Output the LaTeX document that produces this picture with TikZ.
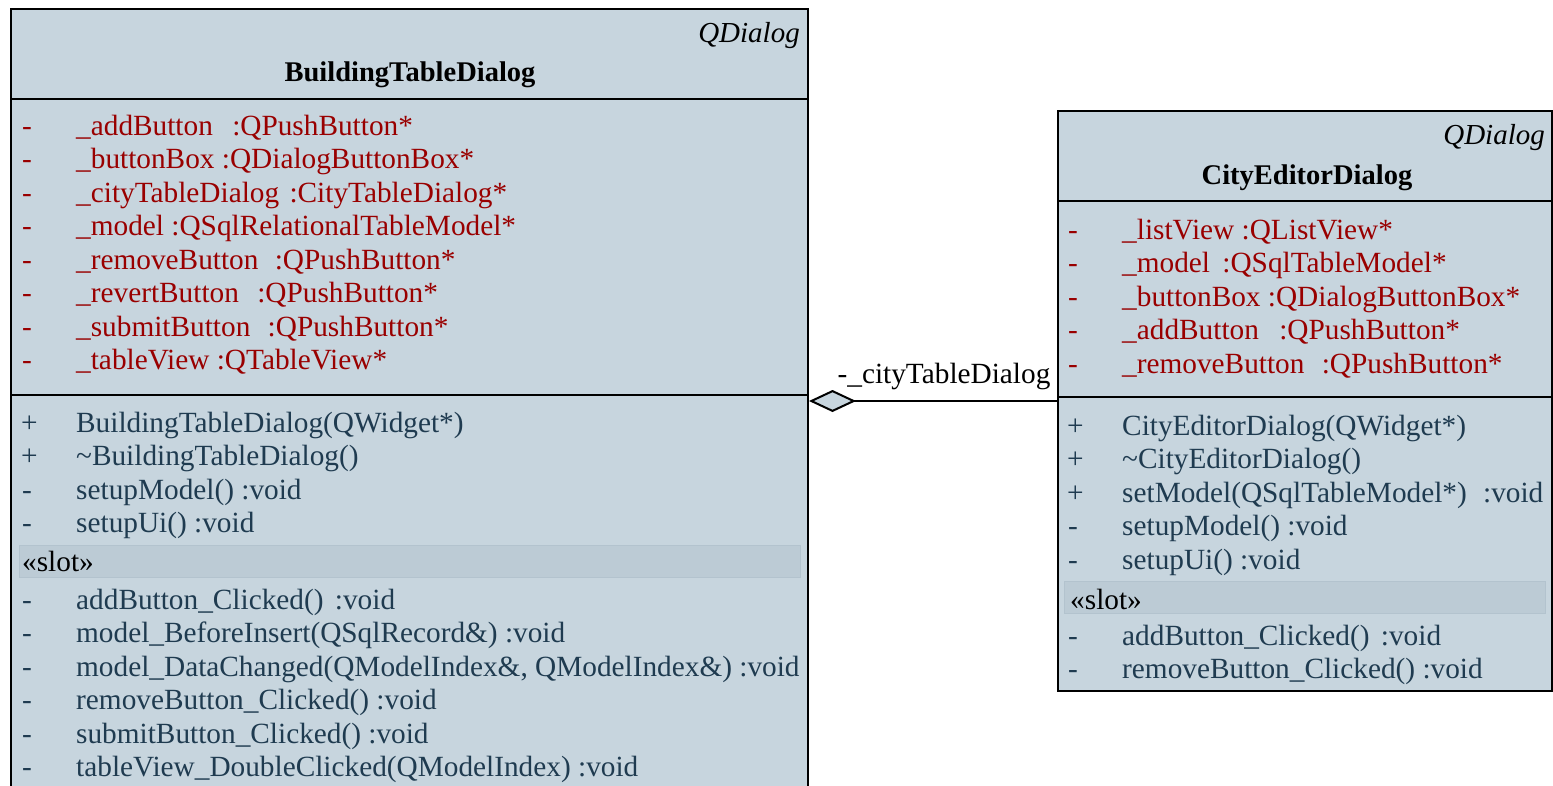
\documentclass[tikz,border=0pt]{standalone}
\usepackage{fontspec}
\setmainfont{Liberation Serif}
\usetikzlibrary{arrows.meta}
\definecolor{boxfill}{HTML}{C7D5DE}
\definecolor{slotfill}{HTML}{BCCBD5}
\definecolor{slotline}{HTML}{B3C3CE}
\definecolor{attrcol}{HTML}{990000}
\definecolor{opcol}{HTML}{1F3B50}
\newcommand{\xs}[1]{\hspace{#1pt}}
\tikzset{
  umlbox/.style={draw=black, line width=2pt, fill=boxfill, rectangle, inner sep=0pt, anchor=north west},
  sepline/.style={draw=black, line width=2pt},
  slotbar/.style={draw=slotline, line width=1pt, fill=slotfill, rectangle, inner sep=0pt, anchor=north west},
  txt/.style={font=\fontsize{29.3}{33.5}\selectfont, inner sep=0pt, anchor=base west},
  attr/.style={txt, text=attrcol},
  op/.style={txt, text=opcol},
  slottxt/.style={txt, text=black},
  stereo/.style={font=\fontsize{29}{33.5}\selectfont\itshape, inner sep=0pt, anchor=base east},
  cname/.style={font=\fontsize{28.5}{33.5}\selectfont\bfseries, inner sep=0pt, anchor=base},
  agg/.style={draw=black, line width=2pt, -{Diamond[length=47pt, width=22pt, fill=boxfill, line width=2pt]}},
  lbl/.style={font=\fontsize{29.3}{33.5}\selectfont, inner sep=0pt, anchor=base}
}
\begin{document}
\begin{tikzpicture}[x=1pt, y=-1pt]
\useasboundingbox (0,0) rectangle (1553,785);
% ---------- Left class ----------
\node[umlbox, minimum width=797pt, minimum height=800pt] (L) at (10,8) {};
\draw[sepline] (10,99) -- (807,99);
\draw[sepline] (10,395) -- (807,395);
\node[slotbar, minimum width=781pt, minimum height=32pt] (Lslot) at (19,545) {};
\node[stereo] (Lst) at (800,42) {QDialog};
\node[cname] (Lname) at (410,81) {BuildingTableDialog};
% attributes
\foreach \y/\t [count=\i] in {135/\_addButton\xs{12} :QPushButton*, 168.5/\_buttonBox :QDialogButtonBox*, 202/\_cityTableDialog\xs{3} :CityTableDialog*, 235.5/\_model :QSqlRelationalTableModel*, 269/\_removeButton\xs{9} :QPushButton*, 302.5/\_revertButton\xs{11} :QPushButton*, 336/\_submitButton\xs{10} :QPushButton*, 369.5/\_tableView :QTableView*}{
  \node[attr] (La\i s) at (22,\y) {-};
  \node[attr] (La\i) at (76,\y) {\t};
}
% operations
\node[op] (Lo1s) at (21,432) {+};
\node[op] (Lo1) at (76,432) {BuildingTableDialog(QWidget*)};
\node[op] (Lo2s) at (21,465.5) {+};
\node[op] (Lo2) at (76,465.5) {\textasciitilde BuildingTableDialog()};
\node[op] (Lo3s) at (22,499) {-};
\node[op] (Lo3) at (76,499) {setupModel() :void};
\node[op] (Lo4s) at (22,532.5) {-};
\node[op] (Lo4) at (76,532.5) {setupUi() :void};
\node[slottxt] (Lslt) at (22,571) {«slot»};
\foreach \y/\t [count=\i] in {609/addButton\_Clicked()\xs{4} :void, 642.5/model\_BeforeInsert(QSqlRecord\&) :void, 676/{model\_DataChanged(QModelIndex\&, QModelIndex\&) :void}, 709.5/removeButton\_Clicked() :void, 743/submitButton\_Clicked() :void, 776.5/tableView\_DoubleClicked(QModelIndex) :void}{
  \node[op] (Ls\i s) at (22,\y) {-};
  \node[op] (Ls\i) at (76,\y) {\t};
}
% ---------- Right class ----------
\node[umlbox, minimum width=494pt, minimum height=580pt] (R) at (1057,110) {};
\draw[sepline] (1057,201) -- (1551,201);
\draw[sepline] (1057,397) -- (1551,397);
\node[slotbar, minimum width=481pt, minimum height=32pt] (Rslot) at (1064,581) {};
\node[stereo] (Rst) at (1545,144) {QDialog};
\node[cname] (Rname) at (1307,184) {CityEditorDialog};
\foreach \y/\t [count=\i] in {239/\_listView :QListView*, 272.5/\_model\xs{5} :QSqlTableModel*, 306/\_buttonBox :QDialogButtonBox*, 339.5/\_addButton\xs{13} :QPushButton*, 373/\_removeButton\xs{10} :QPushButton*}{
  \node[attr] (Ra\i s) at (1068,\y) {-};
  \node[attr] (Ra\i) at (1122,\y) {\t};
}
\node[op] (Ro1s) at (1067,435) {+};
\node[op] (Ro1) at (1122,435) {CityEditorDialog(QWidget*)};
\node[op] (Ro2s) at (1067,468.5) {+};
\node[op] (Ro2) at (1122,468.5) {\textasciitilde CityEditorDialog()};
\node[op] (Ro3s) at (1067,502) {+};
\node[op] (Ro3) at (1122,502) {setModel(QSqlTableModel*)\xs{9} :void};
\node[op] (Ro4s) at (1068,535.5) {-};
\node[op] (Ro4) at (1122,535.5) {setupModel() :void};
\node[op] (Ro5s) at (1068,569) {-};
\node[op] (Ro5) at (1122,569) {setupUi() :void};
\node[slottxt] (Rslt) at (1070,609) {«slot»};
\node[op] (Rs1s) at (1068,645) {-};
\node[op] (Rs1) at (1122,645) {addButton\_Clicked()\xs{4} :void};
\node[op] (Rs2s) at (1068,678.5) {-};
\node[op] (Rs2) at (1122,678.5) {removeButton\_Clicked() :void};
% ---------- Connector ----------
\draw[agg] (R.west) -- (R.west -| L.east);
\node[lbl] (clbl) at (944,383) {-\_cityTableDialog};
\end{tikzpicture}
\end{document}
